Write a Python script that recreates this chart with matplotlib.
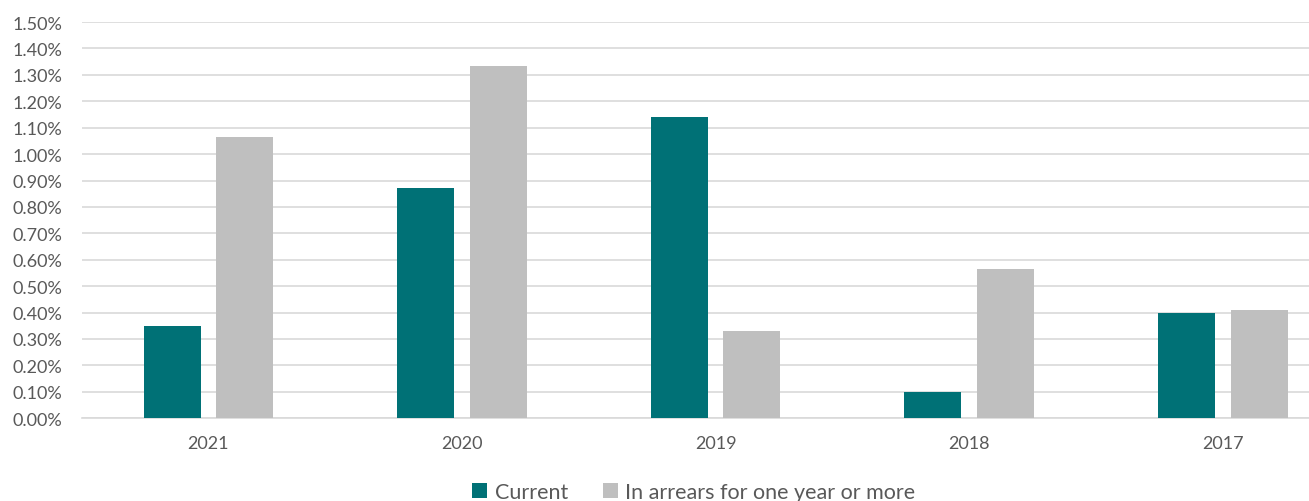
import numpy as np
import matplotlib.pyplot as plt
from matplotlib.ticker import FuncFormatter, MultipleLocator

years = ["2021", "2020", "2019", "2018", "2017"]
current = [0.35, 0.87, 1.14, 0.10, 0.40]
arrears = [1.065, 1.335, 0.33, 0.565, 0.41]

TEAL = "#007176"
GREY = "#BFBFBF"
TXT = "#595959"

plt.rcParams["font.family"] = ["Lato", "DejaVu Sans"]

fig = plt.figure(figsize=(13.09, 5.02), dpi=100)
# plot area runs past the right edge of the image (cropped in the original)
ax = fig.add_axes([0.0623, 0.165, 0.9687, 0.789])

x = np.arange(len(years))
w = 0.225
off = 0.143
ax.bar(x - off, current, w, color=TEAL, label="Current", zorder=3)
ax.bar(x + off, arrears, w, color=GREY, label="In arrears for one year or more", zorder=3)

ax.set_xlim(-0.5, len(years) - 0.5)
ax.set_ylim(0, 1.5)
ax.yaxis.set_major_locator(MultipleLocator(0.1))
ax.yaxis.set_major_formatter(FuncFormatter(lambda v, p: f"{v:.2f}%"))
ax.set_xticks(x, years)
ax.grid(axis="y", color="#D9D9D9", linewidth=1.2, zorder=0)
for s in ["top", "right", "left"]:
    ax.spines[s].set_visible(False)
ax.spines["bottom"].set_color("#D9D9D9")
ax.spines["bottom"].set_linewidth(1.2)
ax.tick_params(axis="both", length=0, colors=TXT, labelsize=13)
ax.tick_params(axis="x", pad=12)
ax.tick_params(axis="y", pad=14)

fig.legend(loc="lower center", bbox_to_anchor=(0.530, -0.041), ncol=2, frameon=False,
           fontsize=15.5, labelcolor=TXT, handlelength=0.7, handleheight=0.7,
           handletextpad=0.35, columnspacing=1.6)

fig.savefig("out.png", dpi=100, facecolor="white")
